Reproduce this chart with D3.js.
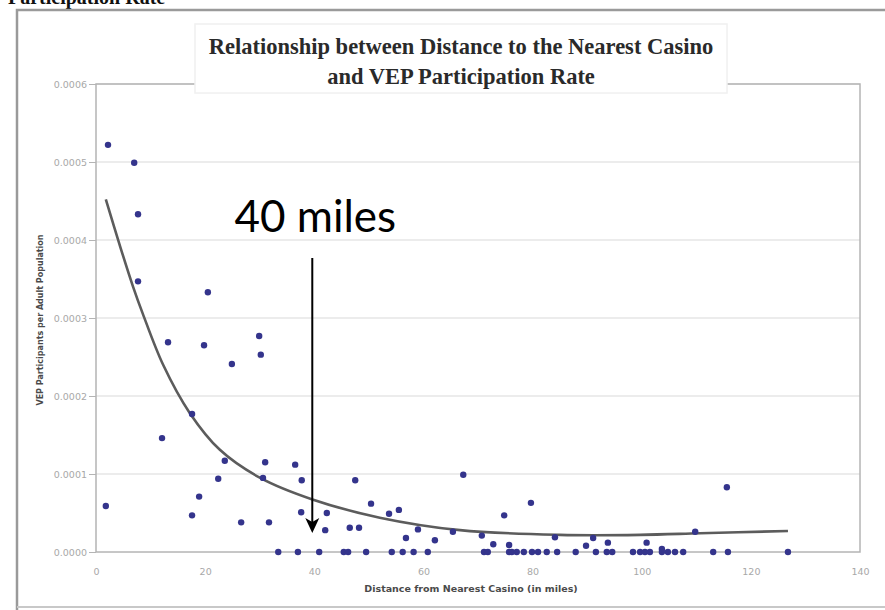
<!DOCTYPE html>
<html>
<head>
<meta charset="utf-8">
<script src="https://cdn.jsdelivr.net/npm/d3@7"></script>
<style>
  html, body { margin: 0; padding: 0; background: #fff; }
  svg { display: block; }
</style>
</head>
<body>
<figure id="scatter" style="margin:0"></figure>
<script>
// scatter points: distance to nearest casino (miles) / VEP participants per adult
const distances = [
  2.2, 7.0, 7.7, 7.7, 20.5, 1.8, 13.2, 19.8, 29.9, 30.2, 24.9, 12.1, 17.6, 23.6, 31.0,
  36.5, 22.4, 30.6, 37.7, 47.5, 18.9, 17.6, 26.6, 31.7, 37.6, 42.3, 42.0, 46.5, 48.2,
  50.4, 53.7, 55.5, 56.8, 59.0, 62.1, 65.4, 67.3, 70.7, 72.8, 75.7, 74.8, 79.7, 84.1,
  89.8, 91.1, 93.8, 100.9, 103.7, 109.8, 115.6,
  // rows sitting on zero
  33.4, 37.0, 40.9, 45.4, 46.2, 49.5, 54.2, 56.2, 58.2, 60.8, 71.1, 71.8, 75.7, 76.2,
  77.1, 78.4, 79.9, 81.0, 82.6, 84.5, 87.9, 91.6, 93.6, 94.6, 98.4, 99.7, 100.6, 101.5,
  103.7, 104.8, 106.1, 107.6, 113.1, 115.8, 126.8
];
const rates = [
  0.000522, 0.000499, 0.000433, 0.000347, 0.000333, 0.000059, 0.000269, 0.000265, 0.000277,
  0.000253, 0.000241, 0.000146, 0.000177, 0.000117, 0.000115, 0.000112, 0.000094, 0.000095,
  0.000092, 0.000092, 0.000071, 0.000047, 0.000038, 0.000038, 0.000051, 0.000050, 0.000028,
  0.000031, 0.000031, 0.000062, 0.000049, 0.000054, 0.000018, 0.000029, 0.000015, 0.000026,
  0.000099, 0.000021, 0.000010, 0.000009, 0.000047, 0.000063, 0.000019, 0.000008, 0.000018,
  0.000012, 0.000012, 0.000004, 0.000026, 0.000083,
  0, 0, 0, 0, 0, 0, 0, 0, 0, 0, 0, 0, 0, 0, 0, 0, 0, 0, 0, 0, 0, 0, 0, 0, 0, 0, 0, 0,
  0, 0, 0, 0, 0, 0, 0
];

// trend line
const trendMiles = [1.8, 4.5, 6.8, 8.6, 12.3, 17.2, 22.7, 30.1, 39.8, 52.0, 66.7, 85.0, 99.7, 110.7, 126.8];
const trendRates = [0.000452, 0.000390, 0.000340, 0.000305, 0.000240, 0.000178, 0.000131, 0.000095,
  0.000067, 0.000044, 0.000028, 0.000022, 0.000022, 0.000024, 0.000027];

const xTicks = [0, 20, 40, 60, 80, 100, 120, 140];
const yTicks = [0, 0.0001, 0.0002, 0.0003, 0.0004, 0.0005, 0.0006];

const titleLines = ["Relationship between Distance to the Nearest Casino", "and VEP Participation Rate"];
const xTitle = "Distance from Nearest Casino (in miles)";
const yTitle = "VEP Participants per Adult Population";
const noteMiles = 40;
const noteText = "40 miles";

const width = 885, height = 610;
const plot = { left: 96, right: 860, top: 84, bottom: 552 };

const svg = d3.select("figure#scatter")
  .append("svg")
  .attr("width", width)
  .attr("height", height);

const x = d3.scaleLinear().domain([0, 140]).range([plot.left, plot.right]);
const y = d3.scaleLinear().domain([0, 0.0006]).range([plot.bottom, plot.top]);

// heading cut off at top of the page (as in the source)
svg.append("text")
  .attr("x", 8).attr("y", 4)
  .style("font", "bold 20px 'Liberation Serif', serif")
  .attr("fill", "#111")
  .text("Participation Rate");

// outer frame of the chart object
svg.append("path")
  .attr("d", "M17,612 L17,10 L890,10")
  .attr("fill", "none")
  .attr("stroke", "#9a9a9a")
  .attr("stroke-width", 2.5);
svg.append("line")
  .attr("x1", 17).attr("x2", 890).attr("y1", 607).attr("y2", 607)
  .attr("stroke", "#c8c8c8").attr("stroke-width", 2);

// gridlines
svg.append("g")
  .selectAll("line")
  .data(yTicks.slice(1))
  .enter()
  .append("line")
  .attr("x1", plot.left).attr("x2", plot.right)
  .attr("y1", d => y(d)).attr("y2", d => y(d))
  .attr("stroke", "#ececec")
  .attr("stroke-width", 2);

// plot frame
svg.append("rect")
  .attr("x", plot.left).attr("y", plot.top)
  .attr("width", plot.right - plot.left)
  .attr("height", plot.bottom - plot.top)
  .attr("fill", "none")
  .attr("stroke", "#b4b4b4")
  .attr("stroke-width", 1.5);

// y axis
const yAxis = svg.append("g")
  .attr("transform", "translate(" + plot.left + ",0)")
  .call(d3.axisLeft(y).tickValues(yTicks).tickFormat(d3.format(".4f")).tickSize(7).tickPadding(2));
yAxis.select(".domain").remove();
yAxis.selectAll("line").attr("stroke", "#b4b4b4");
yAxis.selectAll("text")
  .attr("fill", "#a8a8a8")
  .style("font", "9.5px 'DejaVu Sans', sans-serif");

// x axis
const xAxis = svg.append("g")
  .attr("transform", "translate(0," + plot.bottom + ")")
  .call(d3.axisBottom(x).tickValues(xTicks).tickSize(0).tickPadding(16));
xAxis.select(".domain").remove();
xAxis.selectAll("text")
  .attr("fill", "#a8a8a8")
  .style("font", "9.5px 'DejaVu Sans', sans-serif");

// axis titles
svg.append("text")
  .attr("x", (plot.left + plot.right) / 2 - 7)
  .attr("y", 592)
  .attr("text-anchor", "middle")
  .attr("fill", "#4a4a4a")
  .style("font", "bold 9.5px 'DejaVu Sans', sans-serif")
  .text(xTitle);

svg.append("text")
  .attr("transform", "translate(43,320) rotate(-90)")
  .attr("text-anchor", "middle")
  .attr("fill", "#4a4a4a")
  .style("font", "bold 8px 'DejaVu Sans', sans-serif")
  .text(yTitle);

// title box
svg.append("rect")
  .attr("x", 195).attr("y", 24)
  .attr("width", 532).attr("height", 69)
  .attr("fill", "#fff")
  .attr("stroke", "#f0f0f0")
  .attr("stroke-width", 1.5);

svg.append("g")
  .selectAll("text")
  .data(titleLines)
  .enter()
  .append("text")
  .attr("x", 461)
  .attr("y", (d, i) => 54 + i * 30)
  .attr("text-anchor", "middle")
  .attr("fill", "#2a2a2a")
  .style("font", "bold 22.5px 'Liberation Serif', 'Times New Roman', serif")
  .text(d => d);

// trend line
const points = distances.map((d, i) => ({ miles: d, rate: rates[i] }));
const trend = trendMiles.map((d, i) => ({ miles: d, rate: trendRates[i] }));

svg.append("path")
  .datum(trend)
  .attr("fill", "none")
  .attr("stroke", "#5c5c5c")
  .attr("stroke-width", 2.6)
  .attr("d", d3.line()
    .x(d => x(d.miles))
    .y(d => y(d.rate))
    .curve(d3.curveCatmullRom.alpha(0.5))
  );

// dots
svg.append("g")
  .selectAll("circle")
  .data(points)
  .enter()
  .append("circle")
  .attr("cx", d => x(d.miles))
  .attr("cy", d => y(d.rate))
  .attr("r", 3.2)
  .attr("fill", "#34348c");

// annotation arrow
const ax = x(noteMiles) - 2;
svg.append("text")
  .attr("x", ax + 3)
  .attr("y", 232)
  .attr("text-anchor", "middle")
  .attr("fill", "#000")
  .style("font", "44px Lato, sans-serif")
  .text(noteText);

svg.append("line")
  .attr("x1", ax).attr("x2", ax)
  .attr("y1", 258).attr("y2", 522)
  .attr("stroke", "#000")
  .attr("stroke-width", 2);
svg.append("path")
  .attr("d", `M${ax - 7},518 L${ax},533 L${ax + 7},518 L${ax},522 Z`)
  .attr("fill", "#000");
</script>
</body>
</html>
